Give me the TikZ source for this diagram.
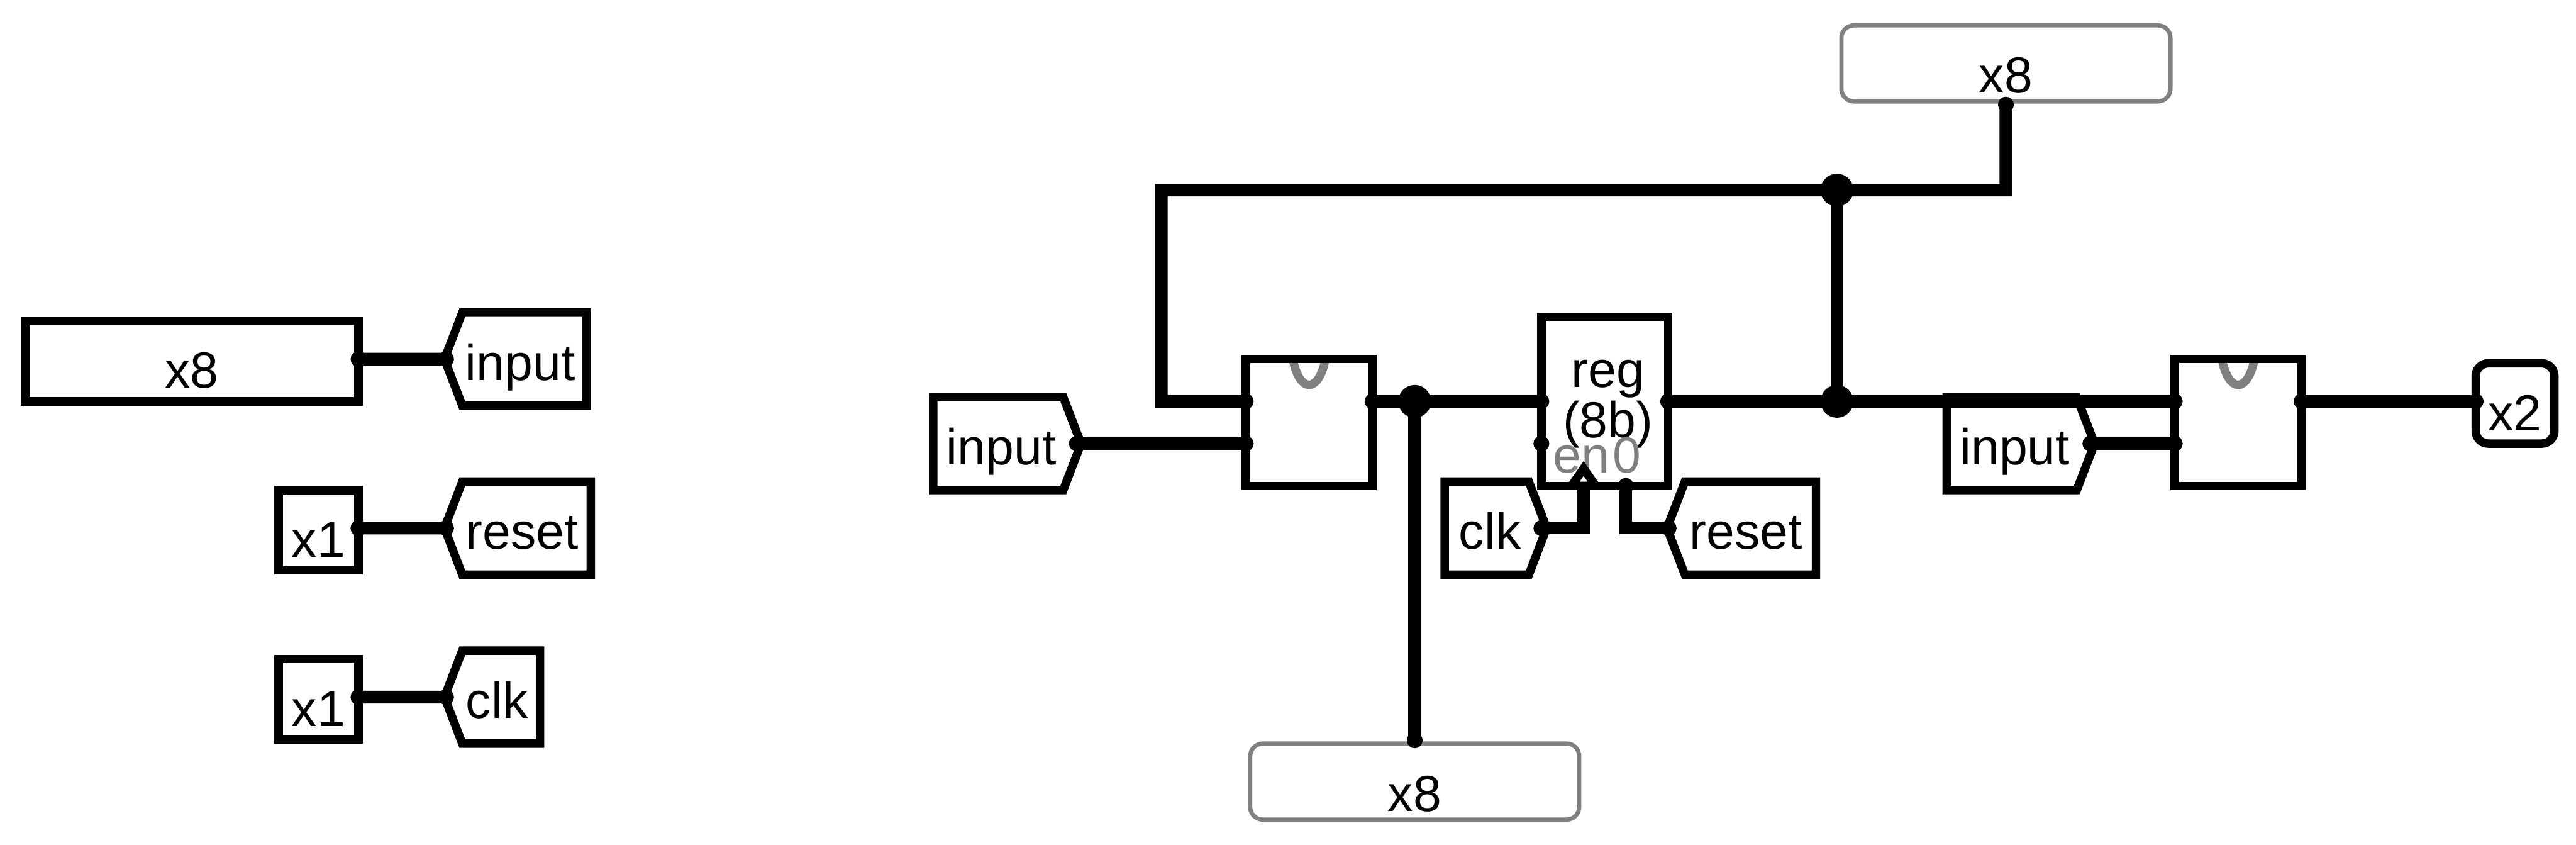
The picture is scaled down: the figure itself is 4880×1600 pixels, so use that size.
\documentclass[tikz,border=0pt]{standalone}
\usepackage{fontspec}
\setmainfont{Liberation Sans}
\usetikzlibrary{shapes.symbols, positioning, calc}
\definecolor{grisRegla}{RGB}{128, 128, 128}

\tikzset{
  txtlbl/.style={font=\fontsize{27.3pt}{27.3pt}\selectfont, inner sep=0pt, outer sep=0pt},
  blockbox/.style={txtlbl, draw=black, line width=.16cm, fill=white, text height=1.27cm, text depth=.25cm, minimum height=1.52cm},
  graybox/.style={txtlbl, draw=grisRegla, line width=.08cm, fill=white, rounded corners=.24cm, text height=1.28cm, text depth=.16cm, minimum height=1.44cm, minimum width=6.23cm},
  muxbox/.style={draw=black, line width=.16cm, inner sep=0pt, outer sep=0pt, minimum width=2.4cm, minimum height=2.4cm},
  tagbox/.style={txtlbl, draw=black, line width=.16cm, fill=white, signal, signal pointer angle=138, text height=1.28cm, text depth=.48cm, minimum height=1.76cm},
  tagleft/.style={tagbox, signal to=west, anchor=west, execute at end node=\hspace*{.16cm}},
  tagright/.style={tagbox, signal to=east, anchor=east, execute at begin node=\hspace*{.12cm}},
  pin/.style={circle, fill=black, inner sep=0pt, minimum size=.3cm},
  junct/.style={circle, fill=black, inner sep=0pt, minimum size=.62cm},
  wire/.style={line width=.24cm},
  dip/.style={line width=.16cm, draw=grisRegla}
}

\begin{document}
\begin{tikzpicture}[x=0.01cm, y=-0.01cm]
  \useasboundingbox (0,0) rectangle (4880,1600);

  % Lado izquierdo
  \node[blockbox, minimum width=6.31cm] (memX) at (363.5,684) {x8};
  \node[blockbox, minimum width=1.51cm] (memR) at (603.5,1004) {x1};
  \node[blockbox, minimum width=1.51cm] (memC) at (603.5,1324) {x1};
  \node[tagleft, minimum width=2.69cm] (tagInL) at (842,680) {input};
  \node[tagleft, minimum width=2.77cm] (tagRstL) at (842,1000) {reset};
  \node[tagleft, minimum width=1.81cm] (tagClkL) at (842,1320) {clk};

  \node[pin] (pinMemX) at ([yshift=.04cm]memX.east) {};
  \node[pin] (pinMemR) at ([yshift=.04cm]memR.east) {};
  \node[pin] (pinMemC) at ([yshift=.04cm]memC.east) {};
  \node[pin] (pinInL) at ([xshift=.03cm]tagInL.west) {};
  \node[pin] (pinRstL) at ([xshift=.03cm]tagRstL.west) {};
  \node[pin] (pinClkL) at ([xshift=.03cm]tagClkL.west) {};
  \draw[wire] (pinMemX.center) -- (pinInL.center);
  \draw[wire] (pinMemR.center) -- (pinRstL.center);
  \draw[wire] (pinMemC.center) -- (pinClkL.center);

  % Curvas grises de los bloques
  \foreach \cx in {2480,4240} {
    \draw[dip] (\cx-31,680) .. controls (\cx-18,745) and (\cx+18,745) .. (\cx+31,680);
  }

  % Lado derecho
  \node[muxbox] (muxA) at (2480,800) {};
  \node[muxbox] (muxB) at (4240,800) {};
  \node[draw=black, line width=.16cm, fill=white, inner sep=0pt, outer sep=0pt, minimum width=2.4cm, minimum height=3.2cm] (reg) at (3040,760) {};
  \node[txtlbl, align=center] (regName) at (3046,765) {reg\\(8b)};
  \node[txtlbl, text=grisRegla, anchor=base] (regEn) at (2996,895) {en};
  \node[txtlbl, text=grisRegla, anchor=base] (regCero) at (3082,895) {0};

  \node[tagright, minimum width=2.8cm] (tagInA) at (2048,840) {input};
  \node[tagright, minimum width=2.8cm] (tagInB) at (3968,840) {input};
  \node[tagright, minimum width=1.93cm] (tagClk) at (2930,1000) {clk};
  \node[tagleft, minimum width=2.82cm] (tagRst) at (3158,1000) {reset};

  \node[graybox] (tapTop) at (3800,120) {x8};
  \node[graybox] (tapBot) at (2680,1480) {x8};
  \node[blockbox, rounded corners=.24cm, minimum width=1.49cm, text height=1.28cm, text depth=.24cm] (salida) at (4764.5,764) {x2};

  % Pines
  \node[pin] (muxAa) at ([yshift=.4cm]muxA.west) {};
  \node[pin] (muxAb) at ([yshift=-.4cm]muxA.west) {};
  \node[pin] (muxAq) at ([yshift=.4cm]muxA.east) {};
  \node[pin] (muxBa) at ([yshift=.4cm]muxB.west) {};
  \node[pin] (muxBb) at ([yshift=-.4cm]muxB.west) {};
  \node[pin] (muxBq) at ([yshift=.4cm]muxB.east) {};
  \node[pin] (regD) at (reg.west) {};
  \node[pin] (regE) at ([yshift=-.8cm]reg.west) {};
  \node[pin] (regQ) at (reg.east) {};
  \node[pin] (regR) at ([xshift=.4cm]reg.south) {};
  \node[pin] (pinInA) at ([xshift=-.08cm]tagInA.east) {};
  \node[pin] (pinInB) at ([xshift=-.08cm]tagInB.east) {};
  \node[pin] (pinClk) at ([xshift=-.1cm]tagClk.east) {};
  \node[pin] (pinRst) at ([xshift=.03cm]tagRst.west) {};
  \node[pin] (pinTop) at ([yshift=-.06cm]tapTop.south) {};
  \node[pin] (pinBot) at ([yshift=.06cm]tapBot.north) {};
  \node[pin] (pinSal) at (salida.west |- muxBq) {};
  \node[junct] (nodoA) at (muxAq -| tapBot) {};
  \node[junct] (nodoB) at (regQ -| 3480,0) {};
  \node[junct] (nodoC) at (3480,360) {};

  % Conexiones
  \draw[wire] (muxAa.center) -- (2200,760) |- (nodoC.center) -| (pinTop.center);
  \draw[wire] (nodoC.center) -- (nodoB.center);
  \draw[wire] (pinInA.center) -- (muxAb.center);
  \draw[wire] (muxAq.center) -- (regD.center);
  \draw[wire] (nodoA.center) -- (pinBot.center);
  \draw[wire] (regQ.center) -- (muxBa.center);
  \draw[wire] (pinInB.center) -- (muxBb.center);
  \draw[wire] (muxBq.center) -- (pinSal.center);
  \draw[wire] (pinClk.center) -| ([xshift=-.4cm]reg.south);
  \draw[wire] (pinRst.center) -| (regR.center);

  % Reloj
  \draw[line width=.16cm, fill=white] ([xshift=-.63cm]reg.south) -- ++(23,-33) -- ++(23,33) -- cycle;
\end{tikzpicture}
\end{document}
